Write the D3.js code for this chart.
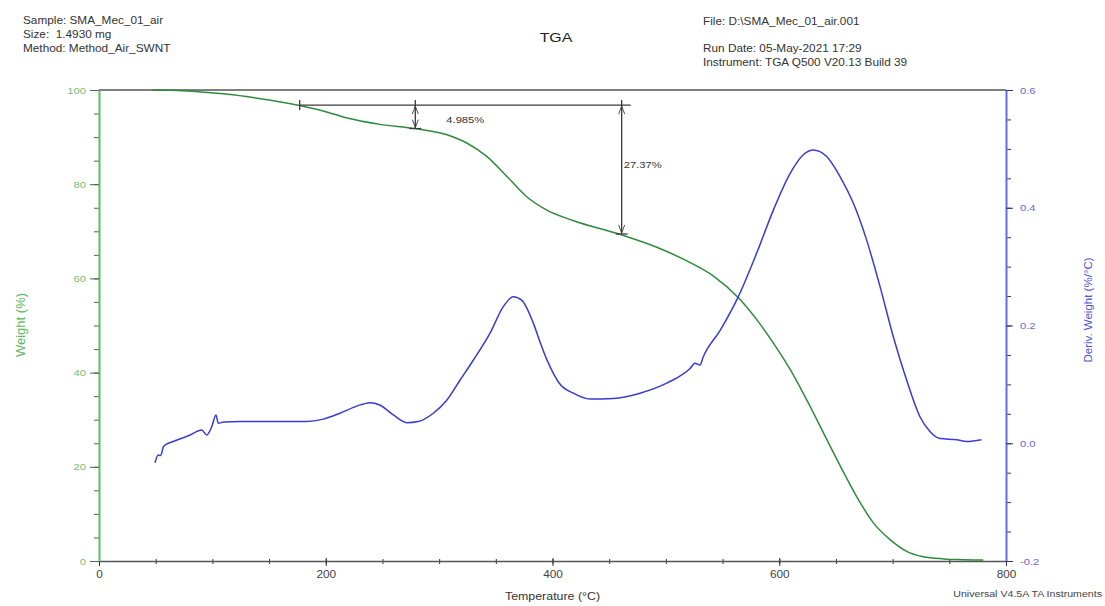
<!DOCTYPE html>
<html>
<head>
<meta charset="utf-8">
<script src="https://cdn.jsdelivr.net/npm/d3@7"></script>
<style>
  body { margin: 0; background: #fff; }
  text { font-family: "Liberation Sans", Arial, sans-serif; }
</style>
</head>
<body>
<script>
/***** Data *****/
// weight curve (green), temperature in °C and weight in %
var weightTemp = [47, 70, 90, 110, 130, 150, 177, 200, 218, 248, 279, 307, 324, 342, 360, 377, 395, 418, 460, 492, 521, 542, 564, 580, 595, 610, 624, 639, 654, 668, 683, 698, 712, 727, 745, 757, 780];
var weightPct  = [100, 99.9, 99.6, 99.2, 98.6, 97.9, 96.7, 95.4, 94.1, 92.7, 91.8, 90.5, 88.8, 85.9, 81.6, 77.4, 74.5, 72.3, 69.3, 66.6, 63.4, 60.5, 55.9, 51.3, 46.2, 40.5, 34.3, 27.2, 20.1, 13.8, 8.1, 4.5, 2.1, 0.9, 0.45, 0.3, 0.2];

// derivative curve (blue), %/°C
var derivTemp = [49.4, 52.3, 54, 55.3, 56.7, 60, 65.5, 80.3, 90.6, 93, 95, 99.4, 103.2, 105.2, 110, 124.4, 153.8, 183.2, 197.9, 212.6, 227.3, 239, 247.6, 259.6, 271.4, 281.6, 294.9, 306.7, 318.4, 330.1, 344.9, 356.6, 365.4, 372.8, 383.1, 389, 395, 401, 406, 418.4, 433.1, 453.6, 477.2, 500.7, 521.3, 525.7, 530.1, 533, 548, 563.9, 580.1, 594.8, 609.5, 621.2, 630, 641.8, 653.6, 665.3, 677.1, 688.9, 700.6, 712.4, 724.1, 732.9, 741.8, 756.5, 765.3, 778.4];
var derivVal  = [-0.033, -0.020, -0.021, -0.017, -0.006, -0.001, 0.003, 0.014, 0.0225, 0.018, 0.014, 0.028, 0.048, 0.034, 0.036, 0.037, 0.037, 0.037, 0.041, 0.051, 0.063, 0.069, 0.065, 0.048, 0.035, 0.037, 0.051, 0.073, 0.107, 0.141, 0.187, 0.232, 0.249, 0.243, 0.204, 0.172, 0.142, 0.118, 0.102, 0.085, 0.075, 0.076, 0.085, 0.102, 0.127, 0.136, 0.133, 0.147, 0.192, 0.249, 0.323, 0.396, 0.458, 0.490, 0.498, 0.487, 0.453, 0.408, 0.345, 0.266, 0.181, 0.107, 0.045, 0.020, 0.008, 0.006, 0.003, 0.006];

var tempTicks   = [0, 200, 400, 600, 800];
var weightTicks = [0, 20, 40, 60, 80, 100];
var derivTicks  = [-0.2, 0, 0.2, 0.4, 0.6];

var headerLeft  = ["Sample: SMA_Mec_01_air", "Size:  1.4930 mg", "Method: Method_Air_SWNT"];
var headerRight = ["File: D:\\SMA_Mec_01_air.001", "Run Date: 05-May-2021 17:29", "Instrument: TGA Q500 V20.13 Build 39"];

// step analysis: reference level and the two measured losses
var stepStart = 177, stepEnd = 469, stepRef = 96.8;
var stepTemps = [279, 461];
var stepLoss  = [4.985, 27.37];

/***** Configuration *****/
var S = 1.18; // picture is stretched sideways, text too
function stretch(sel) {
  sel.each(function () {
    var t = d3.select(this);
    var x = +t.attr("x") || 0;
    t.attr("transform", "translate(" + (x * (1 - S)) + ",0) scale(" + S + ",1)");
  });
}

var svg = d3.select("body").append("svg")
  .attr("width", 1105)
  .attr("height", 606);

var x  = d3.scaleLinear().domain([0, 800]).range([99, 1006]);
var yW = d3.scaleLinear().domain([0, 100]).range([561, 90]);
var yD = d3.scaleLinear().domain([-0.2, 0.6]).range([561, 90]);

/***** Header *****/
svg.selectAll("text.hl").data(headerLeft).enter().append("text")
  .attr("class", "hl")
  .attr("x", 23).attr("y", function (d, i) { return 24 + i * 14; })
  .attr("font-size", 10).attr("fill", "#333")
  .attr("xml:space", "preserve")
  .text(function (d) { return d; })
  .call(stretch);

svg.selectAll("text.hr").data(headerRight).enter().append("text")
  .attr("class", "hr")
  .attr("x", 703).attr("y", function (d, i) { return i == 0 ? 25 : 38.5 + i * 14; })
  .attr("font-size", 10).attr("fill", "#333")
  .text(function (d) { return d; })
  .call(stretch);

svg.append("text")
  .attr("x", 556).attr("y", 42)
  .attr("text-anchor", "middle")
  .attr("font-size", 13.5).attr("fill", "#222")
  .text("TGA")
  .call(stretch);

/***** Frame and axes *****/
svg.append("line")
  .attr("x1", x(0)).attr("x2", x(800))
  .attr("y1", yW(100)).attr("y2", yW(100))
  .attr("stroke", "#555").attr("stroke-width", 1.5);

// bottom
var gx = svg.append("g").attr("transform", "translate(0," + yW(0) + ")");
gx.append("g").call(d3.axisBottom(x).tickValues(d3.range(0, 801, 50)).tickSize(3).tickSizeOuter(0).tickFormat(""))
  .call(function (g) { g.select(".domain").remove(); g.selectAll("line").attr("y1", -2).attr("stroke", "#333"); });
gx.append("g").call(d3.axisBottom(x).tickValues(tempTicks).tickSize(5).tickSizeOuter(0).tickPadding(5))
  .call(function (g) {
    g.select(".domain").attr("stroke", "#555").attr("stroke-width", 1.5);
    g.selectAll("line").attr("y1", -3).attr("stroke", "#333");
    g.selectAll("text").attr("fill", "#444").attr("font-size", 10).attr("font-family", null).call(stretch);
  });

// left
var gl = svg.append("g").attr("transform", "translate(" + x(0) + ",0)");
gl.append("g").call(d3.axisLeft(yW).tickValues(d3.range(0, 101, 5)).tickSize(5).tickSizeOuter(0).tickFormat(""))
  .call(function (g) { g.select(".domain").remove(); g.selectAll("line").attr("stroke", "#4a6a4a"); });
gl.append("g").call(d3.axisLeft(yW).tickValues(weightTicks).tickSize(9).tickSizeOuter(0).tickPadding(4))
  .call(function (g) {
    g.select(".domain").attr("stroke", "#5cbf5c").attr("stroke-width", 2);
    g.selectAll("line").attr("stroke", "#4a6a4a");
    g.selectAll("text").attr("fill", "#7aba7a").attr("font-size", 9.5).attr("font-family", null).call(stretch);
  });

// right
var gr = svg.append("g").attr("transform", "translate(" + x(800) + ",0)");
gr.append("g").call(d3.axisRight(yD).tickValues(d3.range(-4, 13).map(function (k) { return k * 0.05; })).tickSize(5).tickSizeOuter(0).tickFormat(""))
  .call(function (g) { g.select(".domain").remove(); g.selectAll("line").attr("stroke", "#30307a"); });
gr.append("g").call(d3.axisRight(yD).tickValues(derivTicks).tickSize(7).tickSizeOuter(0).tickPadding(7)
    .tickFormat(function (d) { return d.toFixed(1); }))
  .call(function (g) {
    g.select(".domain").attr("stroke", "#6a6ae6").attr("stroke-width", 2);
    g.selectAll("line").attr("stroke", "#30307a");
    g.selectAll("text").attr("fill", "#6868d8").attr("font-size", 9.5).attr("font-family", null).call(stretch);
  });

/***** Curves *****/
var weightLine = d3.line()
  .x(function (d, i) { return x(weightTemp[i]); })
  .y(function (d) { return yW(d); })
  .curve(d3.curveMonotoneX);
var derivLine = d3.line()
  .x(function (d, i) { return x(derivTemp[i]); })
  .y(function (d) { return yD(d); })
  .curve(d3.curveMonotoneX);

svg.append("path").datum(weightPct)
  .attr("d", weightLine)
  .attr("fill", "none").attr("stroke", "#2e8b3c").attr("stroke-width", 1.5);
svg.append("path").datum(derivVal)
  .attr("d", derivLine)
  .attr("fill", "none").attr("stroke", "#3a3ad4").attr("stroke-width", 1.5);

/***** Step annotation *****/
var ann = svg.append("g").attr("stroke", "#3a3a3a").attr("stroke-width", 1.3).attr("fill", "none");
var yRef = yW(stepRef);
ann.append("line").attr("x1", x(stepStart)).attr("x2", x(stepEnd)).attr("y1", yRef).attr("y2", yRef);
ann.append("line").attr("x1", x(stepStart)).attr("x2", x(stepStart)).attr("y1", yRef - 5).attr("y2", yRef + 5);

var labelDx = [31, 2], labelDy = [6, -2];
stepTemps.forEach(function (t, i) {
  var xs = x(t), y1 = yW(stepRef - stepLoss[i]);
  ann.append("line").attr("x1", xs).attr("x2", xs).attr("y1", yRef - 5).attr("y2", y1);
  ann.append("line").attr("x1", xs - 6).attr("x2", xs + 6).attr("y1", y1).attr("y2", y1);
  var h = Math.min(8, (y1 - yRef) / 2 - 1);
  ann.append("path").attr("stroke-width", 0.9)
    .attr("d", "M" + (xs - 3) + "," + (yRef + 1 + h) + "L" + xs + "," + (yRef + 1) + "L" + (xs + 3) + "," + (yRef + 1 + h));
  ann.append("path").attr("stroke-width", 0.9)
    .attr("d", "M" + (xs - 3) + "," + (y1 - 1 - h) + "L" + xs + "," + (y1 - 1) + "L" + (xs + 3) + "," + (y1 - 1 - h));
  svg.append("text")
    .attr("x", xs + labelDx[i]).attr("y", (yRef + y1) / 2 + labelDy[i])
    .attr("font-size", 9.5).attr("fill", "#333")
    .text(d3.format(".4r")(stepLoss[i]) + "%")
    .call(stretch);
});

/***** Axis titles *****/
svg.append("text")
  .attr("x", x(400)).attr("y", 600)
  .attr("text-anchor", "middle").attr("font-size", 10.5).attr("fill", "#333")
  .text("Temperature (°C)")
  .call(stretch);

svg.append("text")
  .attr("transform", "translate(25,325) rotate(-90)")
  .attr("text-anchor", "middle").attr("font-size", 13).attr("fill", "#5cb85c")
  .text("Weight (%)");

svg.append("text")
  .attr("transform", "translate(1092,310) rotate(-90)")
  .attr("text-anchor", "middle").attr("font-size", 11.5).attr("fill", "#5252d8")
  .text("Deriv. Weight (%/°C)");

svg.append("text")
  .attr("x", 1102).attr("y", 597)
  .attr("text-anchor", "end").attr("font-size", 9).attr("fill", "#444")
  .text("Universal V4.5A TA Instruments")
  .call(stretch);
</script>
</body>
</html>
